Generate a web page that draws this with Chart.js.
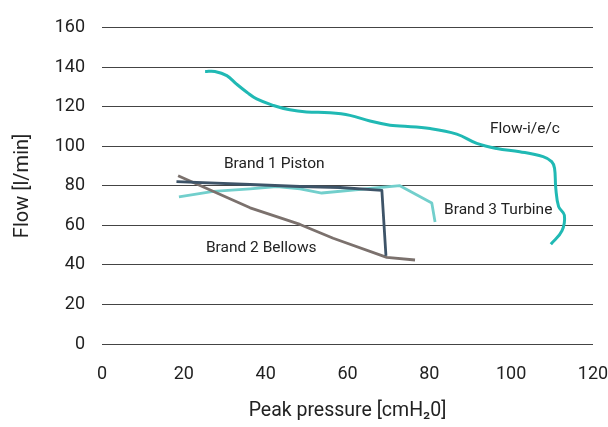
<!DOCTYPE html>
<html lang="en">
<head>
    <meta charset="UTF-8">
    <title>Flow vs peak pressure</title>
    <script src="https://cdn.jsdelivr.net/npm/chart.js@4.4.0/dist/chart.umd.min.js"></script>
    <style>
        body { margin: 0; background: #fff; }
        .caixa { width: 608px; height: 427px; }
    </style>
</head>
<body>
    <div class="caixa">
        <canvas id="grafico"></canvas>
    </div>

<script>
    // data (peak pressure cmH2O, flow l/min)
    const flowX = [25.2, 27.6, 30.5, 32.9, 35.4, 37.8, 41.9, 45.9, 50.0, 55.7, 60.6, 65.5, 70.4, 72.8, 80.2, 86.7, 91.6, 96.5, 102.1, 107.8, 109.9, 110.6, 110.9, 111.6, 113.0, 112.4, 109.7];
    const flowY = [137.9, 137.9, 135.8, 131.5, 127.4, 124.0, 120.7, 118.5, 117.4, 117.0, 115.7, 112.8, 110.7, 110.3, 109.0, 106.2, 101.5, 98.9, 97.3, 94.8, 92.3, 88.9, 78.9, 69.5, 65.2, 57.2, 50.5];

    const pistonX = [18.2, 36.2, 48.4, 58.2, 68.4, 69.4];
    const pistonY = [82.2, 80.7, 79.7, 79.2, 77.7, 44.6];

    const bellowsX = [18.6, 36.2, 48.4, 56.5, 69.6, 76.5];
    const bellowsY = [85.1, 68.9, 60.5, 53.5, 43.8, 42.5];

    const turbineX = [18.8, 27.2, 36.2, 42.7, 48.4, 53.7, 72.8, 80.6, 81.4];
    const turbineY = [74.5, 77.2, 78.5, 79.7, 78.5, 76.4, 80.1, 71.4, 61.7];

    const nomes = ['Flow-i/e/c', 'Brand 1 Piston', 'Brand 2 Bellows', 'Brand 3 Turbine'];
    const cores = ['#20b9b4', '#3e5468', '#7b716d', '#72cfcc'];

    // where the series names sit, in data units
    const rotuloX = [94.8, 29.8, 25.4, 83.6];
    const rotuloY = [108.8, 90.8, 48.6, 67.7];

    const xTicks = [0, 20, 40, 60, 80, 100, 120];
    const yTicks = [0, 20, 40, 60, 80, 100, 120, 140, 160];

    function pontos(xs, ys) {
        return xs.map((x, i) => ({ x: x, y: ys[i] }));
    }

    const rotulos = {
        id: 'rotulos',
        afterDatasetsDraw(chart) {
            const ctx = chart.ctx;
            const sx = chart.scales.x;
            const sy = chart.scales.y;
            ctx.save();
            ctx.font = '15.5px Roboto';
            ctx.fillStyle = '#222';
            ctx.textAlign = 'left';
            ctx.textBaseline = 'middle';
            for (let i = 0; i < nomes.length; i++) {
                ctx.fillText(nomes[i], sx.getPixelForValue(rotuloX[i]), sy.getPixelForValue(rotuloY[i]));
            }
            ctx.restore();
        }
    };

    const dados = {
        datasets: [
            { label: nomes[0], data: pontos(flowX, flowY), borderColor: cores[0], borderWidth: 3, tension: 0.4 },
            { label: nomes[1], data: pontos(pistonX, pistonY), borderColor: cores[1], borderWidth: 2.8, tension: 0 },
            { label: nomes[2], data: pontos(bellowsX, bellowsY), borderColor: cores[2], borderWidth: 2.8, tension: 0 },
            { label: nomes[3], data: pontos(turbineX, turbineY), borderColor: cores[3], borderWidth: 2.8, tension: 0 }
        ]
    };

    const config = {
        type: 'scatter',
        data: dados,
        options: {
            responsive: true,
            maintainAspectRatio: false,
            animation: false,
            showLine: true,
            elements: {
                point: { radius: 0, hoverRadius: 0 },
                line: { fill: false, borderCapStyle: 'butt', borderJoinStyle: 'round' }
            },
            layout: { padding: { top: 25, right: 0, left: 0, bottom: 0 } },
            plugins: {
                legend: { display: false },
                tooltip: { enabled: false }
            },
            scales: {
                x: {
                    type: 'linear',
                    min: 0,
                    max: 120,
                    afterBuildTicks: (s) => { s.ticks = xTicks.map(v => ({ value: v })); },
                    afterFit: (s) => { s.height = 83; s.paddingRight = 15; },
                    grid: { display: false, drawTicks: false },
                    border: { display: false },
                    ticks: { color: '#222', font: { family: 'Roboto', size: 18 }, padding: 20, maxRotation: 0 },
                    title: { display: true, text: 'Peak pressure [cmH₂0]', color: '#222', font: { family: 'Roboto', size: 19.5 }, padding: { top: 12 } }
                },
                y: {
                    type: 'linear',
                    min: 0,
                    max: 160,
                    afterBuildTicks: (s) => { s.ticks = yTicks.map(v => ({ value: v })); },
                    afterFit: (s) => { s.width = 102; },
                    grid: { color: '#444', lineWidth: 1, drawTicks: false },
                    border: { display: false },
                    ticks: { color: '#222', font: { family: 'Roboto', size: 18 }, padding: 17 },
                    title: { display: true, text: 'Flow [l/min]', color: '#222', font: { family: 'Roboto', size: 20 }, padding: { top: 11 } }
                }
            }
        },
        plugins: [rotulos]
    };

    new Chart(document.getElementById('grafico'), config);
</script>
</body>
</html>
